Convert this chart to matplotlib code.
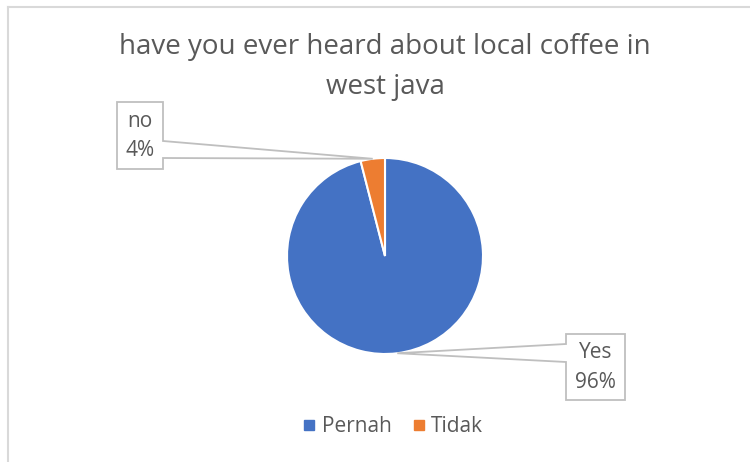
import matplotlib.pyplot as plt
from matplotlib.patches import Polygon
from matplotlib.lines import Line2D
import numpy as np

# Dados
categories = ['Pernah', 'Tidak']
values = [96, 4]
callout_names = ['Yes', 'no']
colors = ['#4472C4', '#ED7D31']
title = 'have you ever heard about local coffee in\nwest java'

W, H = 750, 462
TEXT = '#595959'
plt.rcParams['font.family'] = ['Open Sans', 'DejaVu Sans']

fig = plt.figure(figsize=(W / 100, H / 100), dpi=100)
ax = fig.add_axes([0, 0, 1, 1])

cx, cy, R = 385, 256, 98  # centro e raio em pixels (y para baixo)
wedges, _ = ax.pie(values, colors=colors, startangle=90, counterclock=False,
                   center=(cx, H - cy), radius=R,
                   wedgeprops=dict(edgecolor='white', linewidth=1.5))
ax.set_xlim(0, W)
ax.set_ylim(0, H)
ax.axis('off')


def flip(pts):
    return [(x, H - y) for x, y in pts]


def callout(box, side, base, tip, lines):
    x0, y0, x1, y1 = box
    b0, b1 = base
    if side == 'right':
        pts = [(x0, y0), (x1, y0), (x1, b0), tip, (x1, b1), (x1, y1), (x0, y1)]
    else:
        pts = [(x0, y0), (x1, y0), (x1, y1), (x0, y1), (x0, b1), tip, (x0, b0)]
    ax.add_patch(Polygon(flip(pts), closed=True, facecolor='white',
                         edgecolor='#BFBFBF', linewidth=1.3, zorder=5))
    xm = (x0 + x1) / 2
    ym = (y0 + y1) / 2
    ax.text(xm, H - (ym - 14), lines[0], ha='center', va='center',
            fontsize=15, color=TEXT, zorder=6)
    ax.text(xm, H - (ym + 15), lines[1], ha='center', va='center',
            fontsize=15, color=TEXT, zorder=6)


total = sum(values)
tips = []
for w in wedges:
    mid = np.deg2rad((w.theta1 + w.theta2) / 2)
    tips.append((cx + R * np.cos(mid), cy - R * np.sin(mid)))

pct = [f'{v / total * 100:.0f}%' for v in values]
callout((566, 334, 625, 400), 'left', (344, 362), tips[0],
        [callout_names[0], pct[0]])
callout((117, 102, 163, 169), 'right', (141, 158), tips[1],
        [callout_names[1], pct[1]])

# Título
fig.text(385 / W, 1 - 67 / H, title, ha='center', va='center',
         fontsize=20, color=TEXT, linespacing=1.55)

# Borda do gráfico
fig.add_artist(Line2D([7.5 / W, 7.5 / W], [0, 1 - 6.5 / H],
                      color='#D9D9D9', linewidth=1.5))
fig.add_artist(Line2D([7.5 / W, 1], [1 - 6.5 / H, 1 - 6.5 / H],
                      color='#D9D9D9', linewidth=1.5))

# Legenda
handles = [Line2D([], [], marker='s', linestyle='none', markersize=6.5,
                  markerfacecolor=c, markeredgecolor=c) for c in colors]
fig.legend(handles, categories, loc='center', ncol=2, frameon=False,
           bbox_to_anchor=(391 / W, 1 - 427 / H), fontsize=15,
           labelcolor=TEXT, handletextpad=0.1, columnspacing=0.8,
           handlelength=1.0)

fig.savefig('out.png', dpi=100)
